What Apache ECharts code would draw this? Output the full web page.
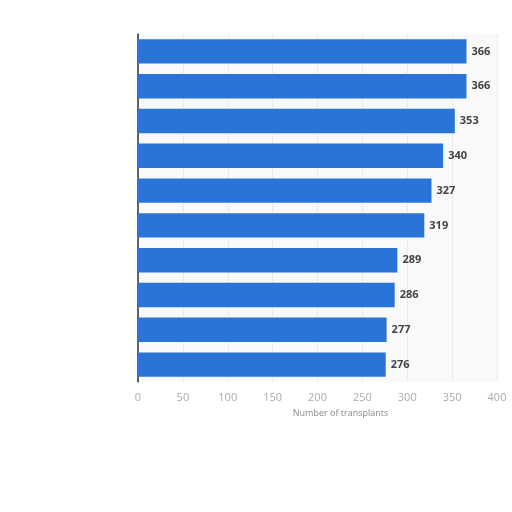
<!DOCTYPE html>
<html lang="en" style="height: 100%">
<head>
  <meta charset="utf-8">
</head>
<body style="height: 100%; margin: 0; background: #fff">
  <div id="container" style="height: 100%"></div>

  <script type="text/javascript" src="https://cdn.jsdelivr.net/npm/echarts@6/dist/echarts.min.js"></script>

  <script type="text/javascript">
    // category names are not shown in the picture, so ranks stand in for them
    var categories = ['1', '2', '3', '4', '5', '6', '7', '8', '9', '10'];
    var transplants = [366, 366, 353, 340, 327, 319, 289, 286, 277, 276];
    var xTicks = { min: 0, max: 400, interval: 50 };

    var dom = document.getElementById('container');
    var myChart = echarts.init(dom, null, { renderer: 'canvas' });

    var option = {
      animation: false,
      grid: { left: 138, right: 15, top: 34, bottom: 130 },
      xAxis: {
        type: 'value',
        min: xTicks.min,
        max: xTicks.max,
        interval: xTicks.interval,
        name: 'Number of transplants',
        nameLocation: 'middle',
        nameGap: 27,
        nameTextStyle: { color: '#888', fontSize: 9, fontFamily: 'Open Sans', padding: [0, 0, 0, 46] },
        axisLine: { show: false },
        axisTick: { show: false },
        axisLabel: { color: '#aaa', fontSize: 11, fontFamily: 'Open Sans', margin: 10 },
        splitLine: { show: true, lineStyle: { color: '#dcdcdc', type: 'dotted', width: 1 } }
      },
      yAxis: {
        type: 'category',
        data: categories,
        inverse: true,
        axisLine: { show: true, lineStyle: { color: '#333', width: 1.5 } },
        axisTick: { show: false },
        axisLabel: { show: false },
        splitArea: { show: true, areaStyle: { color: ['#f9f9f9', '#f9f9f9'] } }
      },
      series: [
        {
          type: 'bar',
          data: transplants,
          barCategoryGap: '30%',
          itemStyle: { color: '#2a74d8' },
          label: {
            show: true,
            position: 'right',
            distance: 5,
            color: '#444',
            fontWeight: 'bold',
            fontSize: 11,
            fontFamily: 'Open Sans'
          }
        }
      ]
    };

    myChart.setOption(option);
    window.addEventListener('resize', myChart.resize);
  </script>
</body>
</html>
